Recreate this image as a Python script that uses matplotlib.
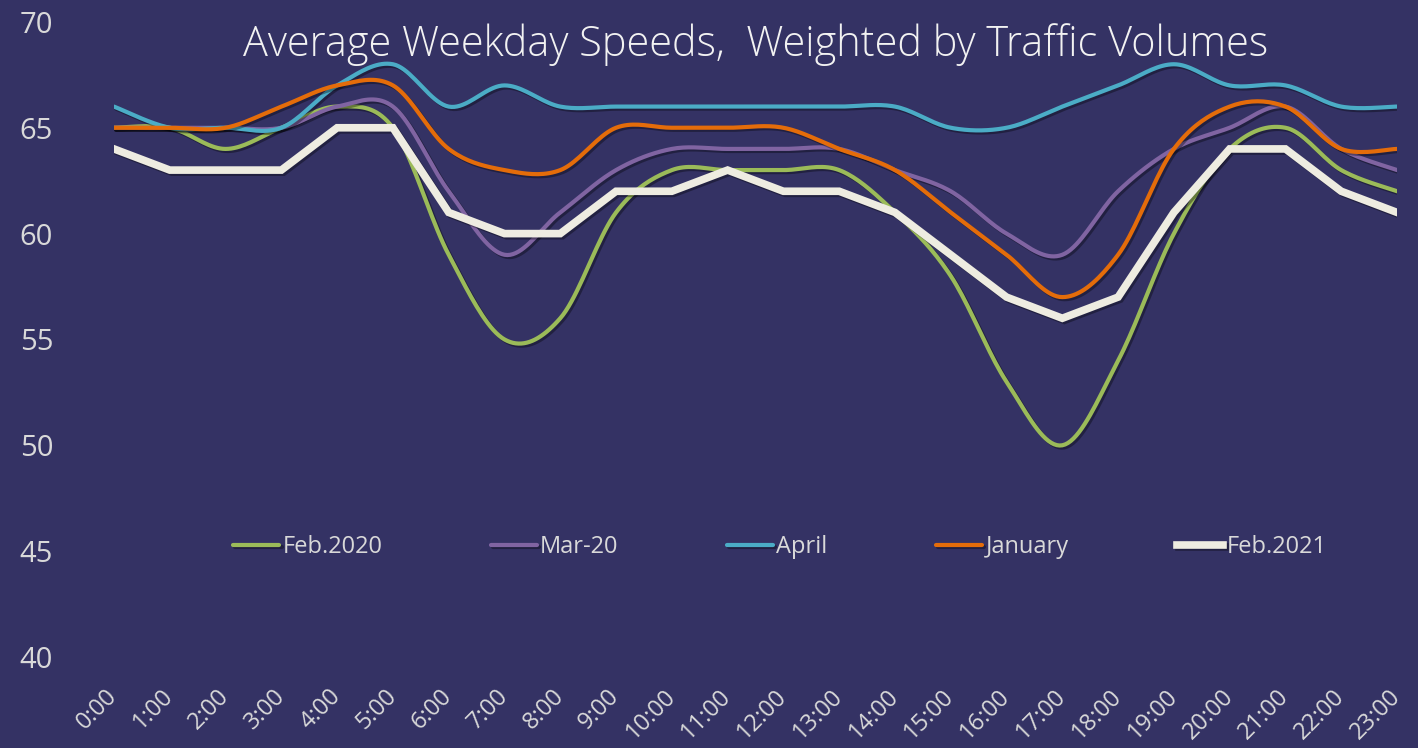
import numpy as np
import matplotlib
matplotlib.use("Agg")
import matplotlib.pyplot as plt
import matplotlib.patheffects as pe

# hourly labels
hours = ["%d:00" % h for h in range(24)]

feb2020 = [65, 65, 64, 65, 66, 65, 59, 55, 56, 61, 63, 63, 63, 63, 61, 58, 53, 50, 54, 60, 64, 65, 63, 62]
mar20 = [65, 65, 65, 65, 66, 66, 62, 59, 61, 63, 64, 64, 64, 64, 63, 62, 60, 59, 62, 64, 65, 66, 64, 63]
april = [66, 65, 65, 65, 67, 68, 66, 67, 66, 66, 66, 66, 66, 66, 66, 65, 65, 66, 67, 68, 67, 67, 66, 66]
january = [65, 65, 65, 66, 67, 67, 64, 63, 63, 65, 65, 65, 65, 64, 63, 61, 59, 57, 59, 64, 66, 66, 64, 64]
feb2021 = [64, 63, 63, 63, 65, 65, 61, 60, 60, 62, 62, 63, 62, 62, 61, 59, 57, 56, 57, 61, 64, 64, 62, 61]

BG = "#343264"
TXT = "#d9d9d9"


def smooth(y, n=20):
    # excel style smoothed line: bezier through points, control points from neighbours
    y = np.asarray(y, float)
    x = np.arange(len(y), dtype=float)
    xs, ys = [], []
    for i in range(len(y) - 1):
        p0 = np.array([x[max(i - 1, 0)], y[max(i - 1, 0)]])
        p1 = np.array([x[i], y[i]])
        p2 = np.array([x[i + 1], y[i + 1]])
        p3 = np.array([x[min(i + 2, len(y) - 1)], y[min(i + 2, len(y) - 1)]])
        c1 = p1 + (p2 - p0) / 6.0
        c2 = p2 - (p3 - p1) / 6.0
        t = np.linspace(0, 1, n, endpoint=(i == len(y) - 2))[:, None]
        pts = (1 - t) ** 3 * p1 + 3 * (1 - t) ** 2 * t * c1 + 3 * (1 - t) * t ** 2 * c2 + t ** 3 * p2
        xs.extend(pts[:, 0])
        ys.extend(pts[:, 1])
    return np.array(xs), np.array(ys)


fig = plt.figure(figsize=(14.18, 7.48), dpi=100, facecolor=BG)
ax = fig.add_axes([0.0804, 0.1217, 0.9048, 0.849], facecolor=BG)

shadow = [pe.SimpleLineShadow(offset=(1.5, -1.5), shadow_color="black", alpha=0.35), pe.Normal()]

series = [("Feb.2020", feb2020, "#9bbb59"),
          ("Mar-20", mar20, "#8064a2"),
          ("April", april, "#4bacc6"),
          ("January", january, "#e46c0a")]
for name, vals, col in series:
    sx, sy = smooth(vals)
    ax.plot(sx, sy, color=col, lw=3, label=name, solid_capstyle="round", path_effects=shadow)

ax.plot(range(24), feb2021, color="#eeece1", lw=5.5, label="Feb.2021",
        solid_joinstyle="miter", path_effects=shadow)

ax.set_xlim(0, 23)
ax.set_ylim(40, 70)
ax.set_yticks(range(40, 71, 5))
ax.set_xticks(range(24))
ax.set_xticklabels(hours, rotation=45, ha="right", va="center", rotation_mode="anchor")
for s in ax.spines.values():
    s.set_visible(False)
ax.tick_params(axis="y", length=0, pad=68, labelsize=21, labelcolor=TXT)
ax.tick_params(axis="x", length=0, pad=26, labelsize=17, labelcolor=TXT)
for lab in ax.get_yticklabels():
    lab.set_fontfamily("Open Sans")
    lab.set_horizontalalignment("left")
for lab in ax.get_xticklabels():
    lab.set_fontfamily("Open Sans")

ax.text(0.5, 0.965, "Average Weekday Speeds,  Weighted by Traffic Volumes", transform=ax.transAxes,
        ha="center", va="center", fontsize=29.9, color="#f2f2f2", family="Open Sans",
        fontweight="light")

leg = ax.legend(loc="center", bbox_to_anchor=(0.519, 0.173), ncol=5, frameon=False,
                handlelength=1.95, handletextpad=0.13, columnspacing=4.6,
                prop={"family": "Open Sans", "size": 17})
for t in leg.get_texts():
    t.set_color(TXT)

fig.savefig("out.png", dpi=100, facecolor=BG)
